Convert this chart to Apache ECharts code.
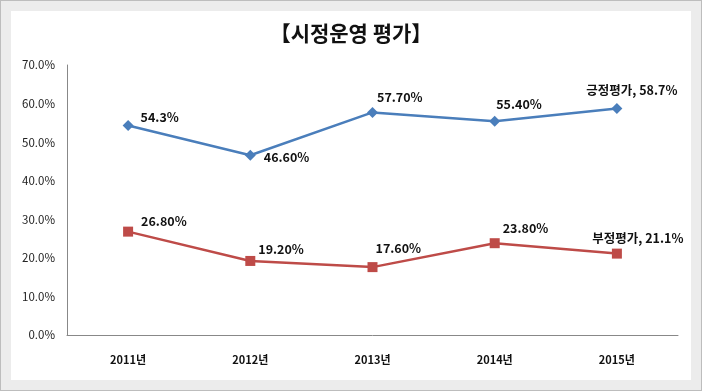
<!DOCTYPE html>
<html><head><meta charset="utf-8">
<script src="https://cdn.jsdelivr.net/npm/echarts@6/dist/echarts.min.js"></script>
<style>html,body{margin:0;padding:0;background:#ececec;}#c{width:702px;height:391px;}</style>
</head><body><div id="c"></div>
<script>
var categories = ['2011년','2012년','2013년','2014년','2015년'];
var positiveValues = [54.3, 46.6, 57.7, 55.4, 58.7];
var negativeValues = [26.8, 19.2, 17.6, 23.8, 21.1];
var positiveLabels = ['54.3%','46.60%','57.70%','55.40%','긍정평가, 58.7%'];
var negativeLabels = ['26.80%','19.20%','17.60%','23.80%','부정평가, 21.1%'];

var font = '"Noto Sans CJK KR", "Noto Sans", sans-serif';
var chart = echarts.init(document.getElementById('c'));

function mkData(vals, labels, layout) {
  return vals.map(function(v, i){
    return {value: v, label: {formatter: labels[i], position: layout[i][0], offset: layout[i][1]}};
  });
}
var posLayout = [['right',[2,-8]],['right',[3,2]],['right',[-6,-15]],['right',[-9,-17]],['top',[15,-2]]];
var negLayout = [['right',[3,-10]],['right',[-2,-12]],['right',[-7,-19]],['right',[-2,-15]],['top',[21,1]]];

chart.setOption({
  backgroundColor: '#ececec',
  animation: false,
  graphic: [
    {type:'rect', shape:{x:0,y:0,width:702,height:391}, style:{fill:'#ececec', stroke:'#bdbdbd', lineWidth:2}, z:-10},
    {type:'rect', shape:{x:11,y:11,width:680,height:369}, style:{fill:'#ffffff'}, z:-9}
  ],
  title: {
    text: '【시정운영 평가】', left: 'center', top: 18,
    textStyle: {fontFamily: font, fontWeight: 'bold', fontSize: 21, color: '#111'}
  },
  grid: {left: 67, right: 24, top: 65, bottom: 56},
  xAxis: {
    type: 'category', data: categories, boundaryGap: true,
    axisLine: {lineStyle: {color: '#888', width: 1}},
    axisTick: {show: false},
    axisLabel: {fontFamily: font, fontWeight: 'bold', fontSize: 11, color: '#111', margin: 19}
  },
  yAxis: {
    type: 'value', min: 0, max: 70, interval: 10,
    axisLine: {show: true, lineStyle: {color: '#888', width: 1}},
    axisTick: {show: false},
    splitLine: {show: false},
    axisLabel: {fontFamily: font, fontSize: 11.5, color: '#222', margin: 12,
      formatter: function(v){ return v.toFixed(1) + '%'; }}
  },
  series: [
    {
      type: 'line', data: mkData(positiveValues, positiveLabels, posLayout),
      symbol: 'diamond', symbolSize: 11,
      lineStyle: {color: '#4a7ebb', width: 2.5},
      itemStyle: {color: '#4a7ebb'},
      label: {show: true, distance: 5, fontFamily: font, fontWeight: 'bold', fontSize: 12.5, color: '#111'}
    },
    {
      type: 'line', data: mkData(negativeValues, negativeLabels, negLayout),
      symbol: 'rect', symbolSize: 10,
      lineStyle: {color: '#be4b48', width: 2.5},
      itemStyle: {color: '#be4b48'},
      label: {show: true, distance: 5, fontFamily: font, fontWeight: 'bold', fontSize: 12.5, color: '#111'}
    }
  ]
});
</script></body></html>
